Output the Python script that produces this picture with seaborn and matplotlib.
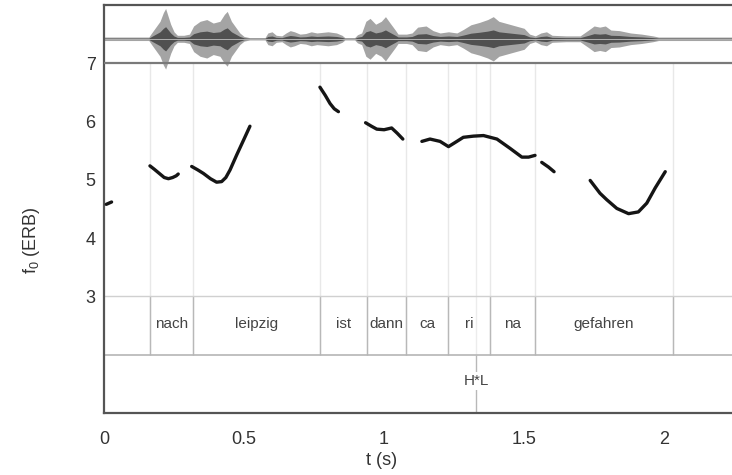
import matplotlib
matplotlib.use('Agg')
import matplotlib.pyplot as plt
import seaborn as sns
import numpy as np
import pandas as pd

# ---------------- data ----------------
# f0 contour segments (time s, f0 ERB)
seg0_t = [0.008, 0.027]
seg0_f = [4.58, 4.62]
seg1_t = [0.164, 0.18, 0.20, 0.215, 0.23, 0.245, 0.258, 0.265]
seg1_f = [5.24, 5.18, 5.10, 5.04, 5.02, 5.04, 5.07, 5.10]
seg2_t = [0.313, 0.335, 0.355, 0.38, 0.402, 0.42, 0.435, 0.45, 0.474, 0.50, 0.521]
seg2_f = [5.23, 5.17, 5.11, 5.02, 4.96, 4.97, 5.04, 5.17, 5.43, 5.70, 5.92]
seg3_t = [0.771, 0.79, 0.807, 0.822, 0.837]
seg3_f = [6.59, 6.45, 6.31, 6.22, 6.17]
seg4_t = [0.934, 0.955, 0.974, 1.0, 1.027, 1.047, 1.067]
seg4_f = [5.98, 5.92, 5.87, 5.86, 5.89, 5.80, 5.70]
seg5_t = [1.135, 1.164, 1.2, 1.23, 1.26, 1.283, 1.319, 1.355, 1.403, 1.45, 1.492, 1.516, 1.539]
seg5_f = [5.66, 5.70, 5.66, 5.57, 5.66, 5.73, 5.75, 5.76, 5.70, 5.54, 5.39, 5.39, 5.42]
seg6_t = [1.563, 1.587, 1.607]
seg6_f = [5.30, 5.22, 5.14]
seg7_t = [1.736, 1.771, 1.795, 1.831, 1.873, 1.908, 1.938, 1.968, 2.004]
seg7_f = [4.99, 4.77, 4.66, 4.51, 4.42, 4.45, 4.60, 4.86, 5.14]

# waveform amplitude envelope (time s, half-amplitude in ERB-axis units)
wave_t = [0.000, 0.160, 0.170, 0.185, 0.200, 0.212, 0.220, 0.228, 0.238, 0.250, 0.262,
          0.285, 0.305, 0.320, 0.343, 0.367, 0.390, 0.414, 0.430, 0.440, 0.455, 0.470,
          0.485, 0.500, 0.520, 0.575, 0.585, 0.600, 0.615, 0.635, 0.650, 0.665, 0.680,
          0.700, 0.720, 0.740, 0.760, 0.780, 0.800, 0.830, 0.850, 0.860, 0.895, 0.905,
          0.920, 0.935, 0.950, 0.970, 0.990, 1.005, 1.020, 1.040, 1.050, 1.080, 1.100,
          1.120, 1.150, 1.175, 1.200, 1.230, 1.260, 1.283, 1.310, 1.340, 1.370, 1.390,
          1.410, 1.440, 1.470, 1.500, 1.520, 1.540, 1.560, 1.580, 1.600, 1.650, 1.700,
          1.730, 1.750, 1.770, 1.790, 1.810, 1.840, 1.880, 1.920, 1.960, 1.980, 2.300]
wave_a = [0.03, 0.03, 0.10, 0.20, 0.30, 0.45, 0.52, 0.40, 0.25, 0.12, 0.06,
          0.06, 0.08, 0.22, 0.30, 0.33, 0.27, 0.30, 0.42, 0.47, 0.30, 0.20,
          0.10, 0.04, 0.02, 0.02, 0.10, 0.12, 0.06, 0.05, 0.10, 0.14, 0.12,
          0.08, 0.09, 0.12, 0.10, 0.11, 0.12, 0.10, 0.06, 0.02, 0.02, 0.07,
          0.10, 0.30, 0.35, 0.25, 0.30, 0.38, 0.28, 0.15, 0.08, 0.08, 0.10,
          0.20, 0.22, 0.14, 0.10, 0.12, 0.10, 0.16, 0.24, 0.28, 0.33, 0.38,
          0.30, 0.26, 0.22, 0.18, 0.08, 0.05, 0.10, 0.12, 0.06, 0.05, 0.05,
          0.15, 0.22, 0.20, 0.22, 0.15, 0.14, 0.10, 0.08, 0.05, 0.03, 0.03]
wave_center = 7.42

# word tier
word_bounds = [0.163, 0.318, 0.771, 0.939, 1.079, 1.228, 1.380, 1.538, 2.032]
words = ['nach', 'leipzig', 'ist', 'dann', 'ca', 'ri', 'na', 'gefahren']
# tone tier
tone_t = [1.33]
tone_labels = ['H*L']

x_ticks = [0, 0.5, 1, 1.5, 2]
x_ticklabels = ['0', '0.5', '1', '1.5', '2']
y_ticks = [2, 3, 4, 5, 6, 7, 7.5]
y_ticklabels = ['', '3', '4', '5', '6', '7', '']

# ---------------- plot ----------------
sns.set_theme(style='white')
plt.rcParams['font.family'] = ['Liberation Sans', 'DejaVu Sans']

fig = plt.figure(figsize=(7.32, 4.75), dpi=100)
ax = fig.add_axes([0.1421, 0.1305, 0.87, 0.859])

# waveform
wt = np.array(wave_t)
wa = np.array(wave_a)
ax.fill_between(wt, wave_center - wa, wave_center + wa, color='#a4a4a4', lw=0, zorder=2)
ax.fill_between(wt, wave_center - 0.4 * wa, wave_center + 0.4 * wa, color='#505050', lw=0, zorder=2)
ax.plot(wt, [wave_center] * len(wt), color='#b0b0b0', lw=0.7, zorder=2)

# tiers / grid lines
ax.vlines(word_bounds, 2, 7, color='#e8e8e8', lw=1.0, zorder=1)
ax.vlines(word_bounds, 2, 3, color='#b8b8b8', lw=1.0, zorder=1)
ax.vlines(tone_t, 2, 7, color='#ececec', lw=1.0, zorder=1)
ax.vlines(tone_t, 1, 2, color='#b8b8b8', lw=1.0, zorder=1)
ax.axhline(7, color='#7a7a7a', lw=1.6, zorder=3)
ax.axhline(3, color='#d0d0d0', lw=1.0, zorder=1)
ax.axhline(2, color='#b5b5b5', lw=1.2, zorder=1)

for i, w in enumerate(words):
    xm = (word_bounds[i] + word_bounds[i + 1]) / 2
    ax.text(xm, 2.52, w, ha='center', va='center', fontsize=11, color='#444444', zorder=4)
for t, lab in zip(tone_t, tone_labels):
    ax.text(t, 1.55, lab, ha='center', va='center', fontsize=11, color='#444444', zorder=4,
            bbox=dict(facecolor='white', edgecolor='none', pad=1.5))

# f0 contour
segs = [(seg0_t, seg0_f), (seg1_t, seg1_f), (seg2_t, seg2_f), (seg3_t, seg3_f),
        (seg4_t, seg4_f), (seg5_t, seg5_f), (seg6_t, seg6_f), (seg7_t, seg7_f)]
df = pd.concat([pd.DataFrame({'t': t, 'f0': f, 'seg': i}) for i, (t, f) in enumerate(segs)],
               ignore_index=True)
sns.lineplot(data=df, x='t', y='f0', units='seg', estimator=None, sort=False,
             color='#151515', lw=2.4, ax=ax, zorder=5, legend=False)

ax.set_xlim(0, 2.274)
ax.set_ylim(1, 8)
ax.set_xticks(x_ticks)
ax.set_xticklabels(x_ticklabels)
ax.set_yticks(y_ticks)
ax.set_yticklabels(y_ticklabels)
ax.tick_params(axis='both', direction='out', length=3, width=1, color='#999999',
               labelsize=13, labelcolor='#333333')
ax.tick_params(axis='x', pad=10)
ax.tick_params(axis='y', pad=3)

for s in ['left', 'bottom', 'top']:
    ax.spines[s].set_color('#555555')
    ax.spines[s].set_linewidth(1.6)
ax.spines['right'].set_visible(False)

ax.set_xlabel('t (s)', fontsize=13, color='#333333')
ax.set_ylabel('f$_{\\mathregular{0}}$ (ERB)', fontsize=13, color='#333333')
ax.xaxis.set_label_coords(0.4366, -0.095)
ax.yaxis.set_label_coords(-0.097, 0.424)

fig.savefig('out.png', dpi=100)
